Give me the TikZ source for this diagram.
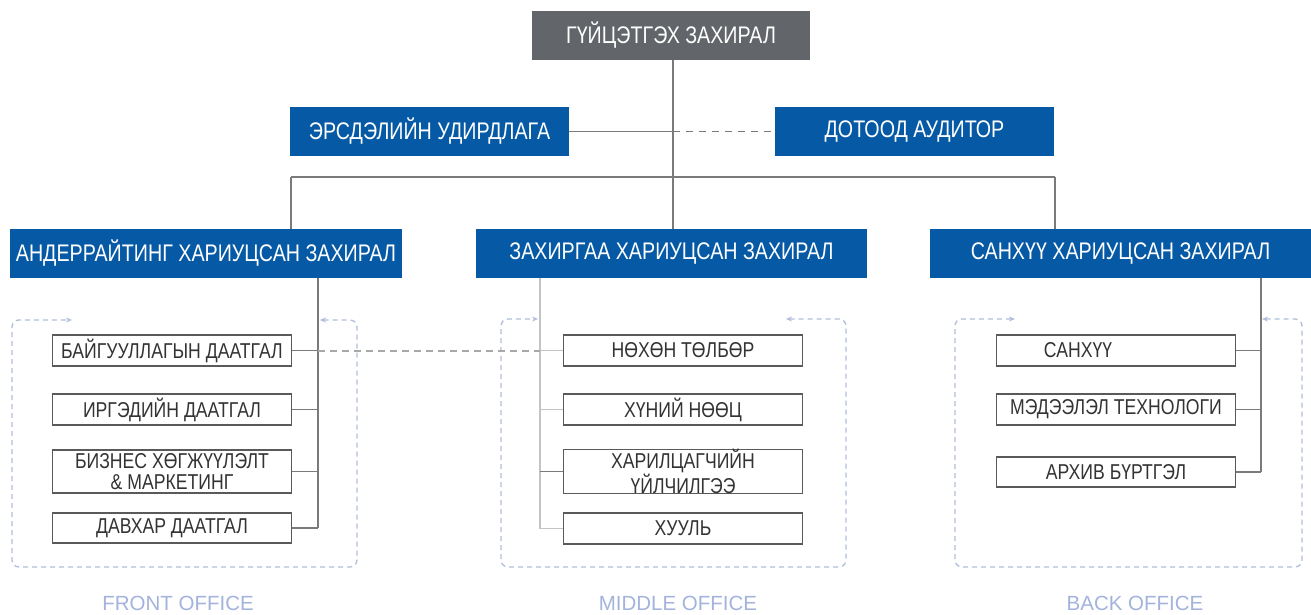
\documentclass[tikz,border=0pt]{standalone}
\usepackage{fontspec}
\setmainfont{Liberation Sans}[FakeStretch=0.82]
\newfontfamily\labelfont{Liberation Sans}
\usetikzlibrary{arrows.meta}
\definecolor{ceoGray}{HTML}{626569}
\definecolor{corpBlue}{HTML}{0659A5}
\definecolor{lineGray}{HTML}{7A7A7A}
\definecolor{lightLine}{HTML}{C4C4C4}
\definecolor{boxEdge}{HTML}{5A5A5A}
\definecolor{boxText}{HTML}{333333}
\definecolor{frameBlue}{HTML}{B2BDDD}
\definecolor{labelBlue}{HTML}{A3B3DC}
\definecolor{dashGray}{HTML}{A8A8A8}
\tikzset{
  topbox/.style={fill=ceoGray, text=white, inner sep=0pt, minimum height=49pt, font=\fontsize{24}{28}\selectfont},
  bluebox/.style={fill=corpBlue, text=white, inner sep=0pt, minimum height=49pt, font=\fontsize{24}{28}\selectfont},
  unitbox/.style={draw=boxEdge, line width=1.2pt, fill=white, text=boxText, inner sep=0pt, minimum width=239pt, align=center, font=\fontsize{21.5}{21}\selectfont},
  conn/.style={draw=lineGray, line width=1.5pt},
  busconn/.style={draw=lineGray, line width=2pt},
  thinconn/.style={draw=lightLine, line width=1.2pt},
  dashconn/.style={draw=dashGray, line width=2pt, dash pattern=on 7pt off 5pt},
  frame/.style={draw=frameBlue, line width=1.3pt, dash pattern=on 5pt off 4pt, rounded corners=7pt, arrows={Stealth[length=6pt,width=5pt]-Stealth[length=6pt,width=5pt]}},
  officelabel/.style={text=labelBlue, inner sep=0pt, font=\labelfont\fontsize{20.5}{24}\selectfont}
}
\begin{document}
\begin{tikzpicture}[x=1pt,y=-1pt]
\useasboundingbox[fill=white] (0,0) rectangle (1311,614);

% top level
\node[topbox, minimum width=278pt] (ceo) at (671,35.5) {ГҮЙЦЭТГЭХ ЗАХИРАЛ};
\node[bluebox, minimum width=279pt] (risk) at (429.5,131.5) {ЭРСДЭЛИЙН УДИРДЛАГА};
\node[bluebox, minimum width=279pt] (audit) at (914.5,131.5) {ДОТООД АУДИТОР};

\node[bluebox, minimum width=392pt] (und) at (206,253.5) {АНДЕРРАЙТИНГ ХАРИУЦСАН ЗАХИРАЛ};
\node[bluebox, minimum width=391pt] (adm) at (671.5,253.5) {ЗАХИРГАА ХАРИУЦСАН ЗАХИРАЛ};
\node[bluebox, minimum width=381pt] (fin) at (1120.5,253.5) {САНХҮҮ ХАРИУЦСАН ЗАХИРАЛ};

\coordinate (busC) at (673,177);
\coordinate (busL) at (291,177);
\coordinate (busR) at (1055,177);

\draw[conn] (ceo.south -| busC) -- (busC);
\draw[conn] (risk.east) -- (risk.east -| busC);
\draw[conn, dash pattern=on 7pt off 6pt] (risk.east -| busC) -- (audit.west);
\draw[busconn] (busL) -- (busR);
\draw[conn] (busL) -- (und.north -| busL);
\draw[conn] (busC) -- (adm.north -| busC);
\draw[conn] (busR) -- (fin.north -| busR);

% frames
\draw[frame] (320,320) -- (357,320) -- (357,567) -- (12,567) -- (12,320) -- (72,320);
\draw[frame] (786,319) -- (846,319) -- (846,567) -- (501,567) -- (501,319) -- (538,319);
\draw[frame] (1262,319) -- (1302,319) -- (1302,567) -- (955,567) -- (955,319) -- (1015,319);

% front office units
\node[unitbox, minimum height=31pt] (f1) at (172,350.5) {БАЙГУУЛЛАГЫН ДААТГАЛ};
\node[unitbox, minimum height=31pt] (f2) at (172,409.5) {ИРГЭДИЙН ДААТГАЛ};
\node[unitbox, minimum height=43pt] (f3) at (172,471.5) {БИЗНЕС ХӨГЖҮҮЛЭЛТ\\\& МАРКЕТИНГ};
\node[unitbox, minimum height=30pt] (f4) at (172,528) {ДАВХАР ДААТГАЛ};

% middle office units
\node[unitbox, minimum height=31pt] (m1) at (683,350.5) {НӨХӨН ТӨЛБӨР};
\node[unitbox, minimum height=31pt] (m2) at (683,409.5) {ХҮНИЙ НӨӨЦ};
\node[unitbox, minimum height=43pt] (m3) at (683,471.5) {ХАРИЛЦАГЧИЙН\\ҮЙЛЧИЛГЭЭ};
\node[unitbox, minimum height=31pt] (m4) at (683,528.5) {ХУУЛЬ};

% back office units
\node[unitbox, minimum height=31pt] (b1) at (1116,350.5) {\hspace*{-76pt}САНХҮҮ};
\node[unitbox, minimum height=31pt] (b2) at (1116,409.5) {МЭДЭЭЛЭЛ ТЕХНОЛОГИ};
\node[unitbox, minimum height=30pt] (b3) at (1116,472) {АРХИВ БҮРТГЭЛ};

% spines
\coordinate (vL) at (318,278);
\coordinate (vM) at (540,278);
\coordinate (vR) at (1261,278);
\draw[conn, line width=1.8pt] (und.south -| vL) -- (f4.east -| vL);
\draw[thinconn] (adm.south -| vM) -- (m4.west -| vM);
\draw[conn] (fin.south -| vR) -- (b3.east -| vR);

\draw[conn] (f1.east) -- (f1.east -| vL);
\draw[conn] (f2.east) -- (f2.east -| vL);
\draw[conn] (f3.east) -- (f3.east -| vL);
\draw[conn] (f4.east) -- (f4.east -| vL);

\draw[thinconn] (m1.west) -- (m1.west -| vM);
\draw[thinconn] (m2.west) -- (m2.west -| vM);
\draw[conn] (m3.west) -- (m3.west -| vM);
\draw[thinconn] (m4.west) -- (m4.west -| vM);

\draw[conn] (b1.east) -- (b1.east -| vR);
\draw[conn] (b2.east) -- (b2.east -| vR);
\draw[conn] (b3.east) -- (b3.east -| vR);

\draw[dashconn] (f1.east -| vL) -- (m1.west -| vM);

% office labels
\node[officelabel, anchor=base] (lf) at (178,610) {FRONT OFFICE};
\node[officelabel, anchor=base] (lm) at (678,610) {MIDDLE OFFICE};
\node[officelabel, anchor=base] (lb) at (1135,610) {BACK OFFICE};
\end{tikzpicture}
\end{document}
